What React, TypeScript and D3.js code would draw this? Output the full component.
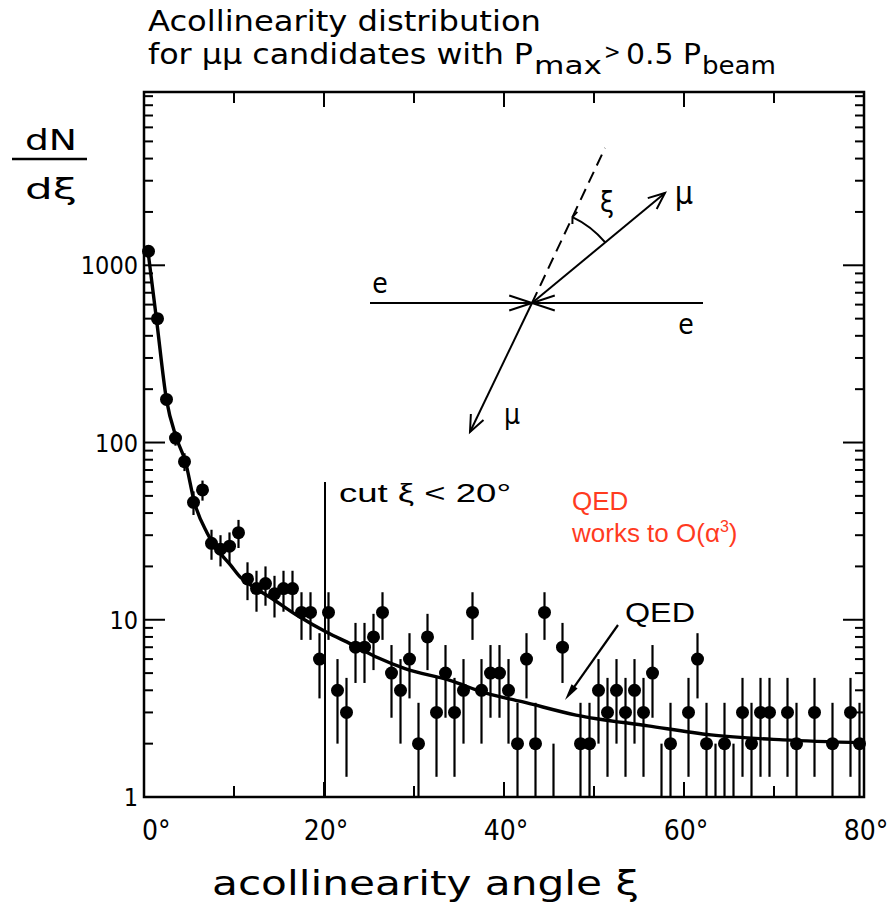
import React from 'react';
import * as d3 from 'd3';

// ---------- data ----------
const binCenters = [
  0.5, 1.5, 2.5, 3.5, 4.5, 5.5, 6.5, 7.5, 8.5, 9.5,
  10.5, 11.5, 12.5, 13.5, 14.5, 15.5, 16.5, 17.5, 18.5, 19.5,
  20.5, 21.5, 22.5, 23.5, 24.5, 25.5, 26.5, 27.5, 28.5, 29.5,
  30.5, 31.5, 32.5, 33.5, 34.5, 35.5, 36.5, 37.5, 38.5, 39.5,
  40.5, 41.5, 42.5, 43.5, 44.5, 45.5, 46.5, 48.5, 49.5,
  50.5, 51.5, 52.5, 53.5, 54.5, 55.5, 56.5, 57.5, 58.5,
  60.5, 61.5, 62.5, 63.5, 64.5, 65.5, 66.5, 67.5, 68.5, 69.5,
  71.5, 72.5, 74.5, 76.5, 78.5, 79.5,
];
const counts = [
  1200, 500, 175, 106, 78, 46, 54, 27, 25, 26,
  31, 17, 15, 16, 14, 15, 15, 11, 11, 6,
  11, 4, 3, 7, 7, 8, 11, 5, 4, 6,
  2, 8, 3, 5, 3, 4, 11, 4, 5, 5,
  4, 2, 6, 2, 11, 1, 7, 2, 2,
  4, 3, 4, 3, 4, 3, 5, 1, 2,
  3, 6, 2, 1, 2, 1, 3, 2, 3, 3,
  3, 2, 3, 2, 3, 2,
];
const errors = [
  35, 22, 13, 10, 9, 7, 7, 5.2, 5, 5.1,
  5.6, 4.1, 3.9, 4, 3.7, 3.9, 3.9, 3.3, 3.3, 2.4,
  3.3, 2, 1.7, 2.6, 2.6, 2.8, 3.3, 2.2, 2, 2.4,
  1.4, 2.8, 1.7, 2.2, 1.7, 2, 3.3, 2, 2.2, 2.2,
  2, 1.4, 2.4, 1.4, 3.3, 1, 2.6, 1.4, 1.4,
  2, 1.7, 2, 1.7, 2, 1.7, 2.2, 1, 1.4,
  1.7, 2.4, 1.4, 1, 1.4, 1, 1.7, 1.4, 1.7, 1.7,
  1.7, 1.4, 1.7, 1.4, 1.7, 1.4,
];
const qedAngle = [0.4, 1.4, 2.5, 3.6, 4.6, 5.6, 7, 8.4, 9.6, 10.7, 12, 14, 17, 20.3, 23, 26, 29, 34, 38, 42, 48, 56, 63, 71, 80];
const qedValue = [1250, 490, 174, 106, 78, 46, 31, 24, 20.4, 17.4, 15.5, 13.4, 10.6, 8.5, 7.3, 6.1, 5.3, 4.55, 3.85, 3.45, 2.9, 2.52, 2.24, 2.1, 2.02];

const yMajorTicks = [1, 10, 100, 1000];
const yTickLabels = ['1', '10', '100', '1000'];
const xTicks = [0, 20, 40, 60, 80];
const xTickLabels = ['0°', '20°', '40°', '60°', '80°'];
const xMinorTicks = [10, 20, 30, 40, 50, 60, 70];
const cutAngle = 20;

const NARROW = "'Liberation Sans Narrow','DejaVu Sans Condensed','Roboto Condensed','Liberation Sans',sans-serif";
const SANS = "'Liberation Sans',Arial,Helvetica,sans-serif";

export default function App() {
  const W = 894, H = 916;
  const L = 144, R = 864, T = 92, B = 797;
  const x = d3.scaleLinear().domain([0, 80]).range([L, R]);
  const y = d3.scaleLog().domain([1, 9500]).range([B, T]);
  const yc = (v: number) => y(Math.max(1, Math.min(9500, v)));

  const minor: number[] = [];
  [1, 10, 100, 1000].forEach((d) => {
    for (let m = 2; m <= 9; m++) if (d * m < 9500) minor.push(d * m);
  });

  const line = d3
    .line<number>()
    .x((_, i) => x(qedAngle[i]))
    .y((d) => y(d))
    .curve(d3.curveMonotoneX);

  // diagram geometry (illustration)
  const vx = 532, vy = 303;
  const upTip = [665, 193];
  const lowTip = [470, 432];
  const dashEnd = [605, 148];
  const arrowHead = (tx: number, ty: number, fx: number, fy: number, len: number, half: number) => {
    const a = Math.atan2(ty - fy, tx - fx);
    const p1 = [tx - len * Math.cos(a - half), ty - len * Math.sin(a - half)];
    const p2 = [tx - len * Math.cos(a + half), ty - len * Math.sin(a + half)];
    return `M${p1[0]},${p1[1]}L${tx},${ty}L${p2[0]},${p2[1]}`;
  };
  const r = 95;
  const aDash = Math.atan2(dashEnd[1] - vy, dashEnd[0] - vx);
  const aMu = Math.atan2(upTip[1] - vy, upTip[0] - vx);
  const arcP1 = [vx + r * Math.cos(aDash), vy + r * Math.sin(aDash)];
  const arcP2 = [vx + r * Math.cos(aMu), vy + r * Math.sin(aMu)];

  // QED arrow
  const qa0 = [618, 625], qa1 = [565, 700];
  const qAng = Math.atan2(qa1[1] - qa0[1], qa1[0] - qa0[0]);
  const qHead = (() => {
    const len = 17, half = 0.22;
    const p1 = [qa1[0] - len * Math.cos(qAng - half), qa1[1] - len * Math.sin(qAng - half)];
    const p2 = [qa1[0] - len * Math.cos(qAng + half), qa1[1] - len * Math.sin(qAng + half)];
    return `M${qa1[0]},${qa1[1]}L${p1[0]},${p1[1]}L${p2[0]},${p2[1]}Z`;
  })();

  return (
    <svg width={W} height={H} style={{ position: 'absolute', left: 0, top: 0, background: '#fff' }}>
      {/* title */}
      <text x={148} y={31} fontFamily={NARROW} fontSize={28} textLength={393} lengthAdjust="spacingAndGlyphs">
        Acollinearity distribution
      </text>
      <text x={148} y={64} fontFamily={NARROW} fontSize={28} textLength={385} lengthAdjust="spacingAndGlyphs">
        for μμ candidates with P
      </text>
      <text x={534} y={74} fontFamily={NARROW} fontSize={24} textLength={68} lengthAdjust="spacingAndGlyphs">max</text>
      <text x={604} y={59} fontFamily={NARROW} fontSize={22}>{'>'}</text>
      <text x={626} y={64} fontFamily={NARROW} fontSize={28} textLength={75} lengthAdjust="spacingAndGlyphs">0.5 P</text>
      <text x={702} y={74} fontFamily={NARROW} fontSize={24} textLength={74} lengthAdjust="spacingAndGlyphs">beam</text>

      {/* y label dN/dξ */}
      <text x={51} y={150} textAnchor="middle" fontFamily={NARROW} fontSize={29} textLength={52} lengthAdjust="spacingAndGlyphs">dN</text>
      <line x1={12} x2={87} y1={159} y2={159} stroke="#000" strokeWidth={2.5} />
      <text x={51} y={199} textAnchor="middle" fontFamily={NARROW} fontSize={29} textLength={52} lengthAdjust="spacingAndGlyphs">dξ</text>

      {/* frame */}
      <rect x={L} y={T} width={R - L} height={B - T} fill="none" stroke="#000" strokeWidth={2.5} />

      {/* y ticks left & right */}
      {yMajorTicks.slice(1).map((v) => (
        <g key={'ym' + v}>
          <line x1={L} x2={L + 21} y1={y(v)} y2={y(v)} stroke="#000" strokeWidth={2} />
          <line x1={R} x2={R - 21} y1={y(v)} y2={y(v)} stroke="#000" strokeWidth={2} />
        </g>
      ))}
      {minor.map((v) => (
        <g key={'yn' + v}>
          <line x1={L} x2={L + 9} y1={y(v)} y2={y(v)} stroke="#000" strokeWidth={2} />
          <line x1={R} x2={R - 9} y1={y(v)} y2={y(v)} stroke="#000" strokeWidth={2} />
        </g>
      ))}
      {yMajorTicks.map((v, i) => (
        <text key={'yl' + v} x={138} y={y(v) + 9} textAnchor="end" fontFamily={NARROW} fontSize={25}>
          {yTickLabels[i]}
        </text>
      ))}

      {/* x ticks top & bottom */}
      {xMinorTicks.map((v) => {
        const len = v % 20 === 0 ? 15 : 11;
        return (
          <g key={'xt' + v}>
            <line x1={x(v)} x2={x(v)} y1={T} y2={T + len} stroke="#000" strokeWidth={2} />
            <line x1={x(v)} x2={x(v)} y1={B} y2={B - len} stroke="#000" strokeWidth={2} />
          </g>
        );
      })}
      {xTicks.map((v, i) => (
        <text
          key={'xl' + v}
          x={i === 0 ? x(v) - 2 : x(v) + 2}
          y={840}
          textAnchor={i === 0 ? 'start' : 'middle'}
          fontFamily={NARROW}
          fontSize={28}
        >
          {xTickLabels[i]}
        </text>
      ))}
      <text x={212} y={895} fontFamily={NARROW} fontSize={34} textLength={427} lengthAdjust="spacingAndGlyphs">
        acollinearity angle ξ
      </text>

      {/* cut line */}
      <line x1={x(cutAngle) + 1} x2={x(cutAngle) + 1} y1={482} y2={B} stroke="#000" strokeWidth={2} />
      <text x={339} y={502} fontFamily={SANS} fontSize={25} textLength={172} lengthAdjust="spacingAndGlyphs">
        cut  ξ &lt; 20°
      </text>

      {/* red annotation */}
      <text x={572} y={510} fontFamily={SANS} fontSize={26} fill="#ff3b1f">QED</text>
      <text x={572} y={542} fontFamily={SANS} fontSize={26} fill="#ff3b1f">
        works to O(α<tspan fontSize={16} dy={-10}>3</tspan><tspan dy={10}>)</tspan>
      </text>

      {/* error bars */}
      {counts.map((c, i) => (
        <line
          key={'e' + i}
          x1={x(binCenters[i])}
          x2={x(binCenters[i])}
          y1={yc(c + errors[i])}
          y2={yc(c - errors[i])}
          stroke="#000"
          strokeWidth={2.2}
        />
      ))}
      {/* points */}
      {counts.map((c, i) =>
        c > 1 ? <circle key={'p' + i} cx={x(binCenters[i])} cy={y(c)} r={6.5} fill="#000" /> : null
      )}

      {/* QED curve */}
      <path d={line(qedValue) || ''} fill="none" stroke="#000" strokeWidth={3.4} />

      {/* QED label and arrow */}
      <text x={625} y={622} fontFamily={SANS} fontSize={28} textLength={70} lengthAdjust="spacingAndGlyphs">QED</text>
      <line x1={qa0[0]} y1={qa0[1]} x2={qa1[0] + 8 * Math.cos(qAng + Math.PI)} y2={qa1[1] + 8 * Math.sin(qAng + Math.PI)} stroke="#000" strokeWidth={2.2} />
      <path d={qHead} fill="#000" />

      {/* diagram */}
      <g stroke="#000" fill="none" strokeWidth={2}>
        <line x1={370} y1={vy} x2={703} y2={vy} />
        <path d={arrowHead(vx, vy, 370, vy, 24, 0.32)} />
        <path d={arrowHead(vx, vy, 703, vy, 24, 0.32)} />
        <line x1={vx} y1={vy} x2={upTip[0]} y2={upTip[1]} />
        <path d={arrowHead(upTip[0], upTip[1], vx, vy, 18, 0.4)} />
        <line x1={vx} y1={vy} x2={lowTip[0]} y2={lowTip[1]} />
        <path d={arrowHead(lowTip[0], lowTip[1], vx, vy, 18, 0.4)} />
        <line x1={vx} y1={vy} x2={dashEnd[0]} y2={dashEnd[1]} strokeDasharray="12 7" />
        <path d={`M${arcP1[0]},${arcP1[1]}A${r},${r} 0 0 1 ${arcP2[0]},${arcP2[1]}`} />
        <path d={arrowHead(arcP1[0], arcP1[1], arcP1[0] + 10, arcP1[1] + 4, 7, 1.2)} />
      </g>
      <text x={380} y={293} textAnchor="middle" fontFamily={NARROW} fontSize={28}>e</text>
      <text x={686} y={334} textAnchor="middle" fontFamily={NARROW} fontSize={28}>e</text>
      <text x={684} y={204} textAnchor="middle" fontFamily={NARROW} fontSize={32}>μ</text>
      <text x={512} y={424} textAnchor="middle" fontFamily={NARROW} fontSize={28}>μ</text>
      <text x={607} y={212} textAnchor="middle" fontFamily={NARROW} fontSize={28}>ξ</text>
    </svg>
  );
}
